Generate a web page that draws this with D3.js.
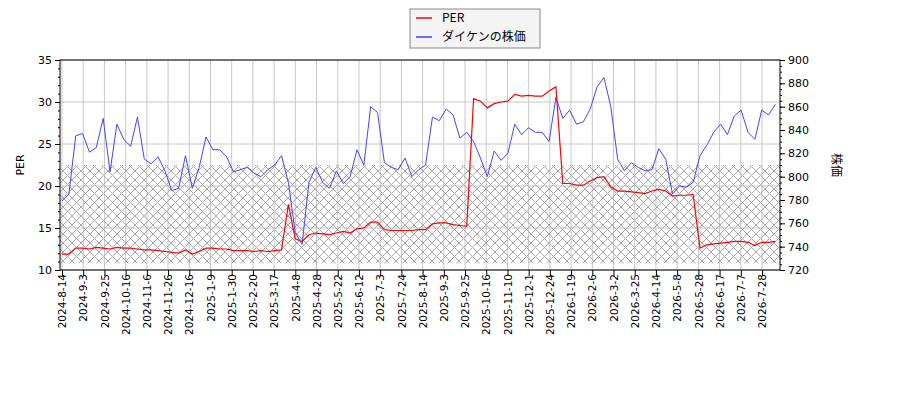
<!DOCTYPE html>
<html>
<head>
<meta charset="utf-8">
<script src="https://cdn.jsdelivr.net/npm/d3@7.9.0/dist/d3.min.js"></script>
<style>
body { margin: 0; background: #fff; }
text { font-family: "DejaVu Sans", sans-serif; }
</style>
</head>
<body>
<div id="chart"></div>
<script>
const tickLabels = ["2024-8-14","2024-9-3","2024-9-25","2024-10-16","2024-11-6","2024-11-26","2024-12-16",
  "2025-1-9","2025-1-30","2025-2-20","2025-3-17","2025-4-8","2025-4-28","2025-5-22","2025-6-12","2025-7-3",
  "2025-7-24","2025-8-14","2025-9-3","2025-9-25","2025-10-16","2025-11-10","2025-12-1","2025-12-24",
  "2026-1-19","2026-2-6","2026-3-2","2026-3-25","2026-4-14","2026-5-8","2026-5-28","2026-6-17","2026-7-7","2026-7-28"];

// weekly samples
const price = [779,785,835,837,821,825,850,804,845,832,826,851,815,811,817,805,788,790,818,790,
  808,834,823,823,817,804,806,808,803,800,806,810,818,795,752,742,795,808,795,790,
  805,794,800,823,810,860,855,812,808,806,816,800,806,810,851,848,858,853,833,838,
  830,816,800,822,814,820,845,836,842,838,838,830,868,850,857,845,847,858,877,885,
  860,815,805,812,808,805,806,824,815,785,792,791,795,818,827,838,845,836,852,857,
  838,832,857,853,862];
const per = [11.9,11.9,12.6,12.6,12.5,12.7,12.6,12.5,12.7,12.6,12.6,12.5,12.4,12.4,12.3,12.2,12.1,12.0,12.4,11.9,
  12.2,12.6,12.6,12.5,12.5,12.3,12.3,12.3,12.2,12.3,12.2,12.3,12.4,17.8,13.7,13.4,14.2,14.4,14.3,14.2,
  14.4,14.6,14.4,14.9,15.0,15.7,15.7,14.8,14.7,14.7,14.7,14.7,14.8,14.8,15.5,15.6,15.6,15.4,15.3,15.2,
  30.4,30.1,29.3,29.8,30.0,30.1,30.9,30.7,30.8,30.7,30.7,31.3,31.8,20.3,20.3,20.1,20.1,20.6,21.0,21.1,
  19.9,19.4,19.4,19.3,19.2,19.1,19.4,19.6,19.4,18.8,18.9,18.9,19.0,12.6,13.0,13.1,13.2,13.3,13.4,13.4,
  13.3,12.9,13.3,13.3,13.4];
const perBand = [10.8, 22.5];

const width = 900, height = 400;
const pLeft = 60, pRight = 780, pTop = 60, pBottom = 270;

const svg = d3.select('#chart').append('svg')
  .attr('width', width).attr('height', height);

const x = d3.scaleLinear().domain([-2 / 6.86, 718 / 6.86]).range([pLeft, pRight]);
const yL = d3.scaleLinear().domain([10, 35]).range([pBottom, pTop]);
const yR = d3.scaleLinear().domain([720, 900]).range([pBottom, pTop]);
const lastTick = 700 / 6.86;
const tickPos = tickLabels.map((_, k) => k * lastTick / (tickLabels.length - 1));

const defs = svg.append('defs');
const pat = defs.append('pattern').attr('id', 'hatch')
  .attr('patternUnits', 'userSpaceOnUse').attr('width', 9).attr('height', 9);
pat.append('path').attr('d', 'M0,0L9,9M9,0L0,9')
  .attr('stroke', '#aaa').attr('stroke-width', 1).attr('fill', 'none');
defs.append('clipPath').attr('id', 'clip').append('rect')
  .attr('x', pLeft).attr('y', pTop).attr('width', pRight - pLeft).attr('height', pBottom - pTop);

// grid
svg.append('g').selectAll('line').data(tickPos).join('line')
  .attr('x1', d => x(d)).attr('x2', d => x(d)).attr('y1', pTop).attr('y2', pBottom)
  .attr('stroke', '#c8c8c8');
svg.append('g').selectAll('line').data(yL.ticks(5)).join('line')
  .attr('x1', pLeft).attr('x2', pRight).attr('y1', d => yL(d)).attr('y2', d => yL(d))
  .attr('stroke', '#c8c8c8');

svg.append('rect')
  .attr('x', pLeft).attr('width', pRight - pLeft)
  .attr('y', yL(perBand[1])).attr('height', yL(perBand[0]) - yL(perBand[1]))
  .attr('fill', 'url(#hatch)');

const plot = svg.append('g').attr('clip-path', 'url(#clip)');
plot.append('path').datum(price)
  .attr('d', d3.line().x((d, i) => x(i)).y(d => yR(d)))
  .attr('fill', 'none').attr('stroke', '#4444ff').attr('stroke-width', 1);
plot.append('path').datum(per)
  .attr('d', d3.line().x((d, i) => x(i)).y(d => yL(d)))
  .attr('fill', 'none').attr('stroke', '#ff0000').attr('stroke-width', 1.2);

// frame
svg.append('rect').attr('x', pLeft).attr('y', pTop).attr('width', pRight - pLeft).attr('height', pBottom - pTop)
  .attr('fill', 'none').attr('stroke', '#000');

// axes
const xAxis = svg.append('g').attr('transform', `translate(0,${pBottom})`)
  .call(d3.axisBottom(x).tickValues(tickPos).tickFormat((d, i) => tickLabels[i]).tickSizeOuter(0));
xAxis.selectAll('text')
  .attr('transform', 'rotate(-90)').attr('text-anchor', 'end')
  .attr('x', -4).attr('y', 0).attr('dy', '0.35em').style('font-size', '10.5px');
xAxis.select('.domain').remove();

function styleAxis(g) {
  g.select('.domain').remove();
  g.selectAll('text').style('font-size', '11px').attr('fill', '#000');
}
svg.append('g').attr('transform', `translate(${pLeft},0)`)
  .call(d3.axisLeft(yL).tickValues(d3.range(10, 36, 1)).tickSize(2).tickFormat(''))
  .call(g => g.select('.domain').remove());
svg.append('g').attr('transform', `translate(${pLeft},0)`)
  .call(d3.axisLeft(yL).ticks(5).tickSize(5)).call(styleAxis);
svg.append('g').attr('transform', `translate(${pRight},0)`)
  .call(d3.axisRight(yR).tickValues(d3.range(720, 901, 5)).tickSize(2).tickFormat(''))
  .call(g => g.select('.domain').remove());
svg.append('g').attr('transform', `translate(${pRight},0)`)
  .call(d3.axisRight(yR).tickValues(d3.range(720, 901, 20)).tickSize(5)).call(styleAxis);

svg.append('text').attr('transform', `translate(24,${(pTop + pBottom) / 2}) rotate(-90)`)
  .attr('text-anchor', 'middle').style('font-size', '11px').text('PER');
svg.append('text').attr('transform', `translate(832,${(pTop + pBottom) / 2}) rotate(90)`)
  .attr('text-anchor', 'middle').style('font-size', '12px')
  .style('font-family', '"Noto Sans CJK JP", sans-serif').text('株価');

// legend
const lg = svg.append('g').attr('transform', 'translate(410,9)');
lg.append('rect').attr('width', 130).attr('height', 39)
  .attr('fill', '#f4f4f4').attr('stroke', '#888');
const items = [['PER', '#ff0000'], ['ダイケンの株価', '#4444ff']];
items.forEach(([name, c], i) => {
  const yy = 9 + i * 19;
  lg.append('line').attr('x1', 6).attr('x2', 22).attr('y1', yy).attr('y2', yy)
    .attr('stroke', c).attr('stroke-width', 1.5);
  lg.append('text').attr('x', 32).attr('y', yy).attr('dy', '0.35em')
    .style('font-size', '12px').style('font-family', '"Noto Sans CJK JP", sans-serif').text(name);
});
</script>
</body>
</html>
